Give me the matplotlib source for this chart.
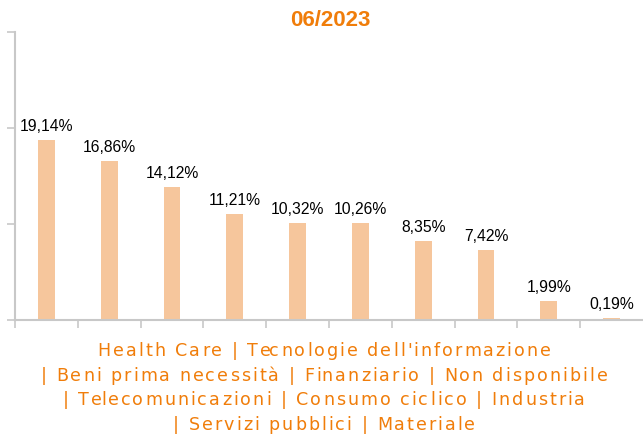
import matplotlib
matplotlib.use("Agg")
from matplotlib import pyplot as plt
from matplotlib.textpath import TextToPath
from matplotlib.font_manager import FontProperties

# sector weights at 06/2023
sectors = ["Health Care", "Tecnologie dell'informazione", "Beni prima necessità",
           "Finanziario", "Non disponibile", "Telecomunicazioni", "Consumo ciclico",
           "Industria", "Servizi pubblici", "Materiale"]
weights = [19.14, 16.86, 14.12, 11.21, 10.32, 10.26, 8.35, 7.42, 1.99, 0.19]
title = "06/2023"

orange = "#f07d0a"
bar_color = "#f6c69c"
grid_grey = "#c8c8c8"

W, H, DPI = 643, 434, 100
fig = plt.figure(figsize=(W / DPI, H / DPI), dpi=DPI)
ax = fig.add_axes([15 / W, 1 - 320 / H, 628 / W, 288 / H])

x = list(range(len(weights)))
ax.bar(x, weights, width=0.27, color=bar_color)
for xi, v in zip(x, weights):
    lbl = ("%.2f" % v).replace(".", ",") + "%"
    ax.annotate(lbl, (xi, v), xytext=(0, 4.5), textcoords="offset points",
                ha="center", va="bottom", fontsize=11.3, family="Liberation Sans",
                color="black")

ax.set_xlim(-0.5, len(weights) - 0.5)
ax.set_ylim(0, 30.6)
ax.set_yticks([0, 10.2, 20.4, 30.6])
ax.set_yticklabels([])
ax.set_xticks([i - 0.5 for i in range(len(weights))])
ax.set_xticklabels([])
ax.tick_params(axis="x", length=6, width=1.2, color=grid_grey, direction="out")
ax.tick_params(axis="y", length=6, width=1.2, color=grid_grey, direction="out")
for s in ["top", "right"]:
    ax.spines[s].set_visible(False)
for s in ["left", "bottom"]:
    ax.spines[s].set_color(grid_grey)
    ax.spines[s].set_linewidth(1.5)

fig.text(330 / W, 1 - 21 / H, title, ha="center", va="center",
         fontsize=16, fontweight="bold", color=orange, family="Liberation Sans")

# category label, letter-spaced like the original
ttp = TextToPath()
prop = FontProperties(family="DejaVu Sans", size=12.6)
track = 2.05  # px between letters

def width_px(s):
    if not s:
        return 0.0
    w, h, d = ttp.get_text_width_height_descent(s, prop, ismath=False)
    return w * DPI / 72.0

def spaced_text(line, cx, cy):
    total = width_px(line) + track * (len(line) - 1)
    x0 = cx - total / 2
    for k, ch in enumerate(line):
        if ch == " ":
            continue
        px = x0 + width_px(line[:k]) + track * k
        fig.text(px / W, 1 - cy / H, ch, ha="left", va="baseline",
                 fontproperties=prop, color=orange)

label_lines = ["Health Care | Tecnologie dell'informazione",
               "| Beni prima necessità | Finanziario | Non disponibile",
               "| Telecomunicazioni | Consumo ciclico | Industria",
               "| Servizi pubblici | Materiale"]
for i, line in enumerate(label_lines):
    spaced_text(line, 324, 356 + 24.6 * i)

fig.savefig("out.png", dpi=DPI)
